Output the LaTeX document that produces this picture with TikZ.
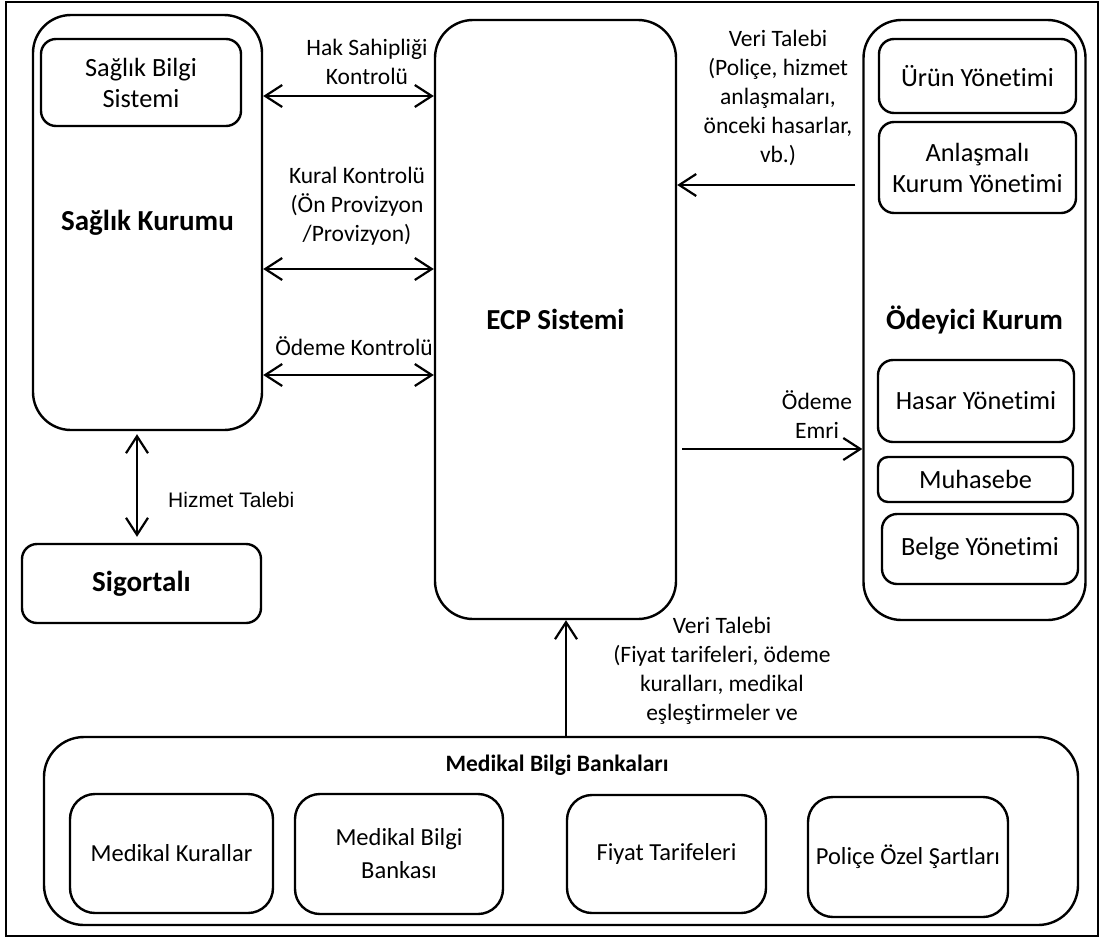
\documentclass[tikz,border=0pt]{standalone}
\usepackage{fontspec}
\setmainfont{Carlito}[Ligatures=NoCommon]
\newfontfamily\arialfont{Liberation Sans}
\usetikzlibrary{arrows.meta}
\newcommand\regsize{\fontsize{23.5}{29}\selectfont}
\newcommand\unitsize{\fontsize{26.3}{31}\selectfont}
\newcommand\banksize{\fontsize{24.5}{33}\selectfont}
\newcommand\titlesize{\fontsize{29}{35}\selectfont\bfseries}
\begin{document}
\begin{tikzpicture}[x=1pt,y=-1pt,
  box/.style={draw, line width=2.4pt, inner sep=0pt, align=center, font=\regsize},
  bigbox/.style={box, rounded corners=38pt, font=\titlesize},
  subbox/.style={box, rounded corners=15pt, font=\unitsize},
  bankbox/.style={box, rounded corners=25pt, font=\banksize},
  lbl/.style={inner sep=0pt, align=center, font=\regsize},
  link/.style={line width=2.2pt, -{Straight Barb[length=17pt,width=22pt]}},
  dlink/.style={line width=2.2pt, {Straight Barb[length=17pt,width=22pt]}-{Straight Barb[length=17pt,width=22pt]}}]

\useasboundingbox (0,0) rectangle (1105,940);
\draw[line width=1.5pt] (6,2) rectangle (1098,936);

% Left side: health institution and insured person
\node[bigbox, minimum width=229pt, minimum height=415pt] (sk) at (147.5,222.5) {Sağlık Kurumu};
\node[subbox, minimum width=200pt, minimum height=87pt] (sbs) at (141,82.5) {Sağlık Bilgi\\Sistemi};
\node[box, rounded corners=15pt, font=\titlesize, minimum width=239pt, minimum height=79pt] (sig) at (141.5,583.5) {Sigortalı};

% Central system
\node[bigbox, minimum width=241pt, minimum height=599pt] (ecp) at (555.5,319.5) {ECP Sistemi};

% Right side: paying institution and its units
\node[bigbox, minimum width=222pt, minimum height=600pt] (ok) at (974.5,320) {Ödeyici Kurum};
\node[subbox, minimum width=197pt, minimum height=74pt] (urun) at (977.5,76) {Ürün Yönetimi};
\node[subbox, minimum width=197pt, minimum height=91pt] (anl) at (977.5,167.5) {Anlaşmalı\\Kurum Yönetimi};
\node[subbox, minimum width=196pt, minimum height=82pt] (hasar) at (976,401) {Hasar Yönetimi};
\node[subbox, rounded corners=10pt, minimum width=195pt, minimum height=45pt] (muh) at (975.5,479.5) {Muhasebe};
\node[subbox, minimum width=196pt, minimum height=70pt] (belge) at (980,549) {Belge Yönetimi};

% Bottom: medical knowledge banks
\node[box, rounded corners=40pt, minimum width=1034pt, minimum height=188pt] (mbk) at (561,831) {};
\node[lbl, font=\regsize\bfseries] (mbkt) at (557,765) {Medikal Bilgi Bankaları};
\node[bankbox, minimum width=203pt, minimum height=119pt] (mk) at (171.5,853.5) {Medikal Kurallar};
\node[bankbox, minimum width=208pt, minimum height=120pt] (mbb) at (399,854) {Medikal Bilgi\\Bankası};
\node[bankbox, minimum width=199pt, minimum height=118pt] (ft) at (666.5,854) {Fiyat Tarifeleri};
\node[bankbox, minimum width=200pt, minimum height=120pt] (poz) at (908,857) {Poliçe Özel Şartları};

% Heights and columns of the connectors
\coordinate (y1) at (0,96);
\coordinate (y2) at (0,269);
\coordinate (y3) at (0,375);
\coordinate (y4) at (0,185);
\coordinate (y5) at (0,449);
\coordinate (xh) at (137,0);
\coordinate (xv) at (566,0);

\draw[dlink] (sk.east |- y1) -- (ecp.west |- y1);
\draw[dlink] (sk.east |- y2) -- (ecp.west |- y2);
\draw[dlink] (sk.east |- y3) -- (ecp.west |- y3);
\draw[link, shorten <=7pt] (ok.west |- y4) -- (ecp.east |- y4);
\draw[link, shorten <=5pt] (ecp.east |- y5) -- (ok.west |- y5);
\draw[dlink, shorten <=3pt, shorten >=6pt] (xh |- sk.south) -- (xh |- sig.north);
\draw[link] (xv |- mbk.north) -- (xv |- ecp.south);

% Connector labels
\node[lbl] (lhak) at (367,61.5) {Hak Sahipliği\\Kontrolü};
\node[lbl] (lkural) at (357,206) {Kural Kontrolü\\(Ön Provizyon\\/Provizyon)};
\node[lbl] (lodeme) at (354,346) {Ödeme Kontrolü};
\node[lbl] (lveri) at (778,98) {Veri Talebi\\(Poliçe, hizmet\\anlaşmaları,\\önceki hasarlar,\\vb.)};
\node[lbl] (lemri) at (817,415) {Ödeme\\Emri};
\node[lbl] (lveri2) at (722,671) {Veri Talebi\\(Fiyat tarifeleri, ödeme\\kuralları, medikal\\eşleştirmeler ve};
\node[inner sep=0pt, anchor=west, font=\arialfont\fontsize{21}{25}\selectfont] (lhiz) at (168,500) {Hizmet Talebi};
\end{tikzpicture}
\end{document}
